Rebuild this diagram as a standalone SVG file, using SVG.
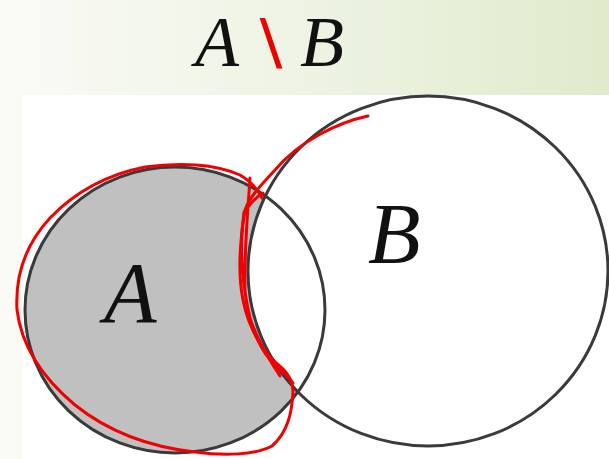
<svg xmlns="http://www.w3.org/2000/svg" width="609" height="459" viewBox="0 0 609 459">
<defs>
<linearGradient id="bg" x1="0" y1="0" x2="1" y2="0">
<stop offset="0" stop-color="#fafbf6"/>
<stop offset="0.5" stop-color="#eef3e4"/>
<stop offset="1" stop-color="#e0ebcc"/>
</linearGradient>
<clipPath id="clipB"><ellipse cx="428" cy="271" rx="180" ry="175"/></clipPath>
</defs>
<style>
.set{stroke:#3a3a3a;stroke-width:3;}
.lbl{font-family:"Liberation Serif",serif;font-style:italic;font-size:86px;fill:#111;}
.title{font-family:"Liberation Serif",serif;font-style:italic;font-size:72px;fill:#111;}
.slash{font-family:"Liberation Serif",serif;font-style:normal;fill:#ee0000;stroke:#ee0000;stroke-width:2;}
.ink{fill:none;stroke:#f00000;stroke-width:3;stroke-linecap:round;stroke-linejoin:round;}
</style>
<rect x="0" y="0" width="609" height="459" fill="url(#bg)"/>
<rect x="22" y="95" width="587" height="364" fill="#ffffff"/>
<text class="title" x="195" y="66">A<tspan class="slash" x="261">\</tspan><tspan x="300">B</tspan></text>
<g id="setA">
<ellipse cx="175" cy="310" rx="150" ry="143" fill="#c0c0c0"/>
<ellipse cx="175" cy="310" rx="150" ry="143" fill="#ffffff" clip-path="url(#clipB)"/>
<ellipse class="set" cx="175" cy="310" rx="150" ry="143" fill="none"/>
<text class="lbl" x="104" y="322">A</text>
</g>
<g id="setB">
<ellipse class="set" cx="428" cy="271" rx="180" ry="175" fill="none"/>
<text class="lbl" x="368" y="263">B</text>
</g>
<g id="annotation">
<path class="ink" d="M368,116 C340,122 300,140 275,170 C262,184 250,196 245,210 C240,240 238,275 243,300 C248,325 258,345 275,362 C285,370 293,378 293,392 C292,412 288,432 272,446 C255,455 225,456 195,452 C150,447 110,433 75,405 C45,380 22,350 17,310 C15,275 25,245 50,218 C75,192 105,175 145,167 C180,162 215,164 240,175 C252,182 258,190 262,198"/>
<path class="ink" d="M250,178 C248,210 244,250 245,290 C247,320 258,345 270,360 C278,368 288,376 293,383 M244,212 C240,240 240,275 250,318 C257,340 268,358 280,376 M263,193 C255,198 248,205 244,215"/>
</g>
</svg>
